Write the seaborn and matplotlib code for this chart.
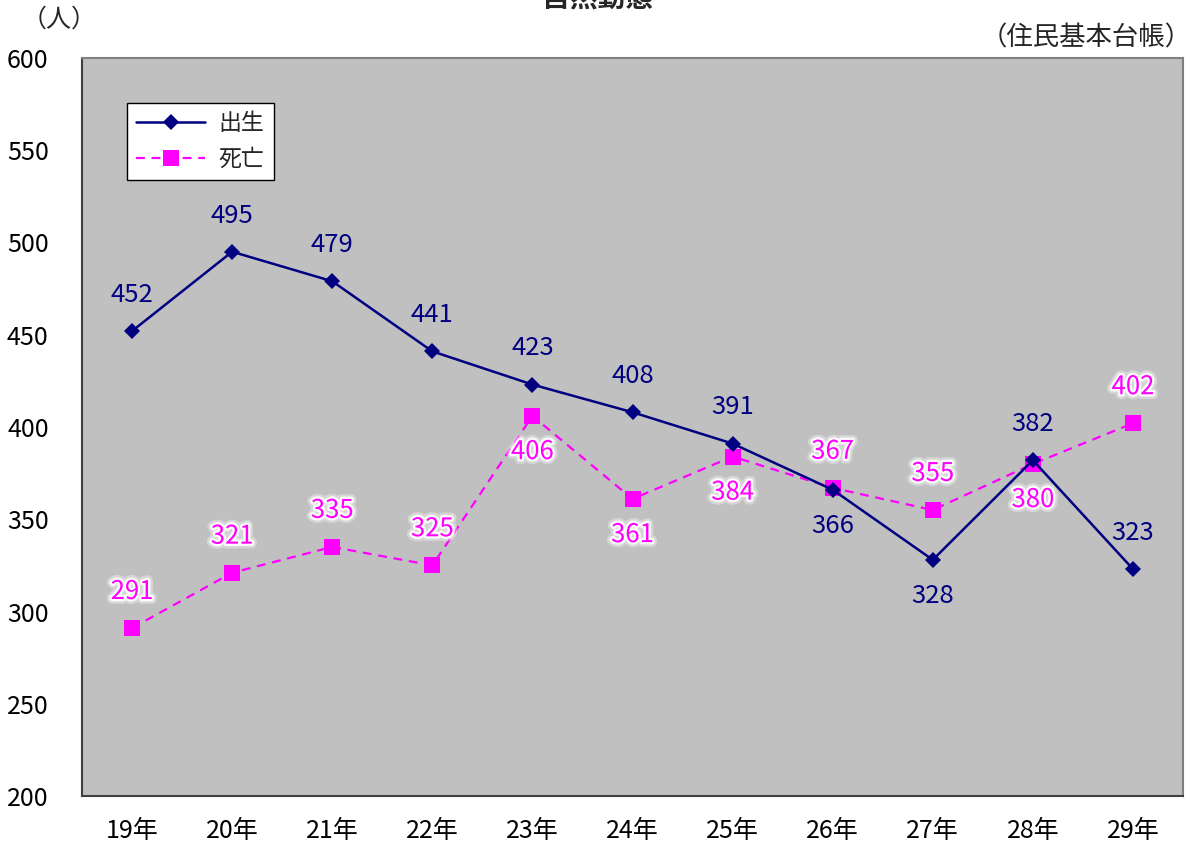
import matplotlib
matplotlib.use("Agg")
import matplotlib.pyplot as plt
import matplotlib.patheffects as pe
import seaborn as sns
import pandas as pd

years = ["19年", "20年", "21年", "22年", "23年", "24年", "25年", "26年", "27年", "28年", "29年"]
births = [452, 495, 479, 441, 423, 408, 391, 366, 328, 382, 323]
deaths = [291, 321, 335, 325, 406, 361, 384, 367, 355, 380, 402]
birth_label_pos = ["a", "a", "a", "a", "a", "a", "a", "b", "b", "a", "a"]
death_label_pos = ["a", "a", "a", "a", "b", "b", "b", "a", "a", "b", "a"]
yticks = [200, 250, 300, 350, 400, 450, 500, 550, 600]

sns.set_theme(style="white")
FONT = ["Noto Sans CJK JP", "DejaVu Sans"]
plt.rcParams["font.family"] = FONT

fig = plt.figure(figsize=(11.95, 8.46), dpi=100)
ax = fig.add_axes([82 / 1195, 1 - 796 / 846, (1183 - 82) / 1195, (796 - 58) / 846])
ax.set_facecolor("#C0C0C0")

df_b = pd.DataFrame({"year": years, "value": births})
df_d = pd.DataFrame({"year": years, "value": deaths})

NAVY = "#000080"
MAG = "#FF00FF"

sns.lineplot(data=df_d, x="year", y="value", ax=ax, color=MAG, linestyle=(0, (4, 3)),
             linewidth=1.6, marker="s", markersize=11, markeredgewidth=0,
             markerfacecolor=MAG, label="死亡", zorder=3)
sns.lineplot(data=df_b, x="year", y="value", ax=ax, color=NAVY, linewidth=1.8,
             marker="D", markersize=8.5, markeredgewidth=0, markerfacecolor=NAVY,
             label="出生", zorder=4)

OFF = 26
for i, (v, p) in enumerate(zip(births, birth_label_pos)):
    off = OFF if p == "a" else -OFF
    ax.annotate(str(v), (i, v), xytext=(0, off), textcoords="offset points",
                ha="center", va="center", fontsize=18.5, color=NAVY, zorder=6)
glow = [pe.withStroke(linewidth=7, foreground="white", alpha=0.35),
        pe.withStroke(linewidth=3.5, foreground="white", alpha=0.9)]
for i, (v, p) in enumerate(zip(deaths, death_label_pos)):
    off = OFF if p == "a" else -OFF
    ax.annotate(str(v), (i, v), xytext=(0, off), textcoords="offset points",
                ha="center", va="center", fontsize=18.5, color=MAG, zorder=6,
                path_effects=glow)

ax.set_xlim(-0.5, len(years) - 0.5)
ax.set_ylim(200, 600)
ax.set_yticks(yticks)
ax.set_yticklabels([str(t) for t in yticks], fontsize=18, color="black")
ax.tick_params(axis="y", length=0, pad=24)
ax.set_xticks(range(len(years)))
ax.set_xticklabels(years, fontsize=18, color="black")
ax.tick_params(axis="x", which="major", length=0, pad=16)
ax.set_xticks([i + 0.5 for i in range(len(years) - 1)], minor=True)
ax.tick_params(axis="x", which="minor", length=6, direction="in", color="#404040", width=1.2)
ax.set_xlabel("")
ax.set_ylabel("")
for s in ["left", "bottom"]:
    ax.spines[s].set_color("#404040")
    ax.spines[s].set_linewidth(1.5)
for s in ["top", "right"]:
    ax.spines[s].set_color("#808080")
    ax.spines[s].set_linewidth(1.5)

h, l = ax.get_legend_handles_labels()
order = [l.index("出生"), l.index("死亡")]
leg = ax.legend([h[k] for k in order], [l[k] for k in order], loc="upper left",
                bbox_to_anchor=((127 - 82) / 1101, 1 - (103 - 58) / 738), fontsize=16.5,
                frameon=True, fancybox=False, borderaxespad=0,
                edgecolor="black", facecolor="white", framealpha=1, handlelength=3.0,
                borderpad=0.4, labelspacing=0.55, handletextpad=0.6)
leg.get_frame().set_linewidth(1.0)

fig.text(0.5, 1.0, "自然動態", ha="center", va="center", fontsize=20, fontweight="bold")
fig.text(22 / 1195, 1 - 20 / 846, "（人）", ha="left", va="center", fontsize=18)
fig.text(1192 / 1195, 1 - 38 / 846, "（住民基本台帳）", ha="right", va="center", fontsize=19)

fig.savefig("out.png", dpi=100)
